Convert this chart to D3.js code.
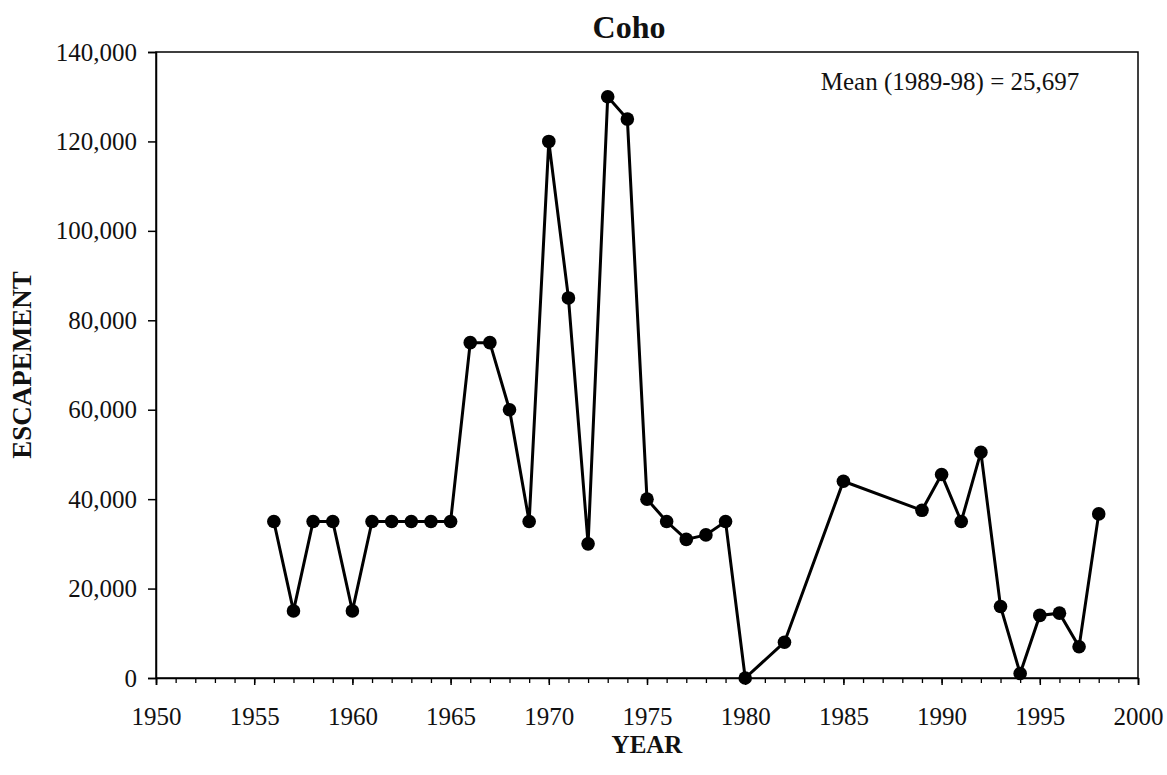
<!DOCTYPE html>
<html lang="en">
<head>
<meta charset="UTF-8">
<title>Coho</title>
<script src="https://d3js.org/d3.v7.min.js"></script>
<style>
  body { margin: 0; background: #fff; }
  text { font-family: "Liberation Serif", "DejaVu Serif", serif; fill: #111; }
</style>
</head>
<body>
<svg width="1167" height="775"></svg>
<script>
// Data
const years = [1956, 1957, 1958, 1959, 1960, 1961, 1962, 1963, 1964, 1965,
  1966, 1967, 1968, 1969, 1970, 1971, 1972, 1973, 1974, 1975,
  1976, 1977, 1978, 1979, 1980, 1982, 1985, 1989, 1990, 1991,
  1992, 1993, 1994, 1995, 1996, 1997, 1998];
const escapement = [35000, 15000, 35000, 35000, 15000, 35000, 35000, 35000, 35000, 35000,
  75000, 75000, 60000, 35000, 120000, 85000, 30000, 130000, 125000, 40000,
  35000, 31000, 32000, 35000, 0, 8000, 44000, 37500, 45500, 35000,
  50500, 16000, 1000, 14000, 14500, 7000, 36700];
const xTicks = [1950, 1955, 1960, 1965, 1970, 1975, 1980, 1985, 1990, 1995, 2000];
const yTicks = [0, 20000, 40000, 60000, 80000, 100000, 120000, 140000];

const data = years.map((y, i) => ({ year: y, value: escapement[i] }));

const margin = { top: 52, right: 29, bottom: 97, left: 156 };
const width = 1167 - margin.left - margin.right;
const height = 775 - margin.top - margin.bottom;

const svg = d3.select("svg");
const g = svg.append("g").attr("transform", `translate(${margin.left},${margin.top})`);

const x = d3.scaleLinear().domain([1950, 2000]).range([0, width]);
const y = d3.scaleLinear().domain([0, 140000]).range([height, 0]);

// frame
g.append("rect")
  .attr("width", width).attr("height", height)
  .attr("fill", "none").attr("stroke", "#000").attr("stroke-width", 1.5);

// x axis: minor yearly ticks, major every 5
g.append("g")
  .attr("transform", `translate(0,${height})`)
  .call(d3.axisBottom(x).tickValues(d3.range(1950, 2001)).tickSize(5).tickFormat(""))
  .call(a => a.select(".domain").remove())
  .call(a => a.selectAll("line").attr("stroke-width", 1.3));

g.append("g")
  .attr("transform", `translate(0,${height})`)
  .call(d3.axisBottom(x).tickValues(xTicks).tickSize(7).tickPadding(22).tickFormat(d3.format("d")))
  .call(a => a.select(".domain").attr("stroke-width", 1.5))
  .call(a => a.selectAll("line").attr("stroke-width", 1.5))
  .call(a => a.selectAll("text").attr("font-size", 25).attr("font-family", "Liberation Serif"));

g.append("g")
  .call(d3.axisLeft(y).tickValues(yTicks).tickSize(8).tickPadding(11).tickFormat(d3.format(",")))
  .call(a => a.select(".domain").attr("stroke-width", 1.5))
  .call(a => a.selectAll("line").attr("stroke-width", 1.5))
  .call(a => a.selectAll("text").attr("font-size", 25).attr("font-family", "Liberation Serif"));

// line and markers
const line = d3.line().x(d => x(d.year)).y(d => y(d.value));
g.append("path")
  .datum(data)
  .attr("fill", "none")
  .attr("stroke", "#000")
  .attr("stroke-width", 3)
  .attr("d", line);

g.selectAll("circle")
  .data(data)
  .enter().append("circle")
  .attr("cx", d => x(d.year))
  .attr("cy", d => y(d.value))
  .attr("r", 6.8)
  .attr("fill", "#000");

// titles
svg.append("text")
  .attr("x", 629).attr("y", 38)
  .attr("text-anchor", "middle")
  .attr("font-size", 32).attr("font-weight", "bold")
  .text("Coho");

svg.append("text")
  .attr("x", margin.left + width / 2).attr("y", 753)
  .attr("text-anchor", "middle")
  .attr("font-size", 25).attr("font-weight", "bold")
  .text("YEAR");

svg.append("text")
  .attr("transform", `translate(31,${margin.top + height / 2}) rotate(-90)`)
  .attr("text-anchor", "middle")
  .attr("font-size", 27).attr("font-weight", "bold")
  .text("ESCAPEMENT");

svg.append("text")
  .attr("x", 950).attr("y", 90)
  .attr("text-anchor", "middle")
  .attr("font-size", 25)
  .text("Mean (1989-98) = 25,697");
</script>
</body>
</html>
